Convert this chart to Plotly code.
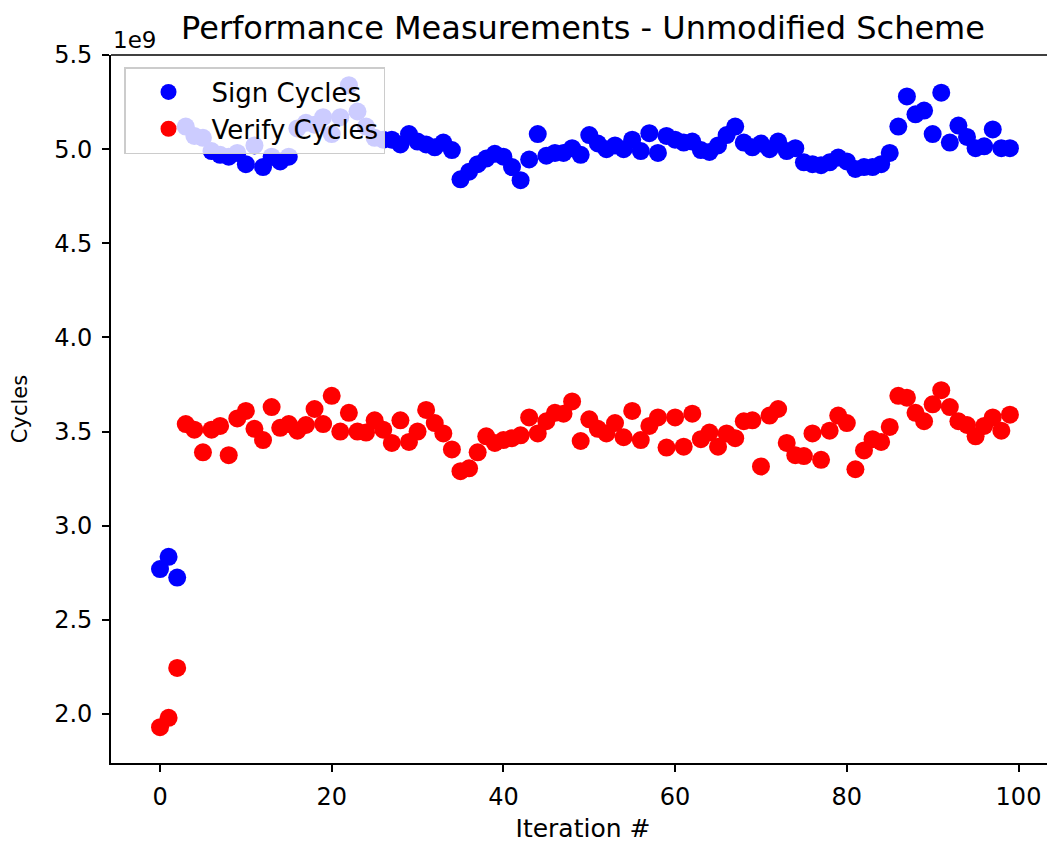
import plotly.graph_objects as go

iterations = list(range(100))

sign_cycles_e9 = [
    2.77, 2.835, 2.725, 5.12, 5.07, 5.06, 4.99, 4.97, 4.96, 4.98,
    4.92, 5.02, 4.905, 4.96, 4.935, 4.96, 5.11, 5.14, 5.13, 5.17,
    5.08, 5.17, 5.34, 5.20, 5.12, 5.06, 5.05, 5.05, 5.025, 5.08,
    5.04, 5.025, 5.01, 5.035, 4.995, 4.84, 4.88, 4.92, 4.95, 4.975,
    4.96, 4.905, 4.835, 4.945, 5.08, 4.965, 4.98, 4.98, 5.005, 4.97,
    5.075, 5.03, 5.00, 5.02, 5.00, 5.05, 4.99, 5.085, 4.98, 5.07,
    5.05, 5.035, 5.04, 4.995, 4.985, 5.02, 5.075, 5.12, 5.035, 5.01,
    5.03, 5.00, 5.04, 4.99, 5.005, 4.93, 4.92, 4.915, 4.93, 4.955,
    4.935, 4.895, 4.905, 4.905, 4.92, 4.98, 5.12, 5.28, 5.185, 5.205,
    5.08, 5.30, 5.035, 5.125, 5.065, 5.005, 5.015, 5.105, 5.005, 5.005,
]

verify_cycles_e9 = [
    1.93, 1.98, 2.245, 3.54, 3.51, 3.39, 3.51, 3.53, 3.375, 3.57,
    3.61, 3.515, 3.455, 3.63, 3.52, 3.54, 3.505, 3.535, 3.62, 3.54,
    3.69, 3.50, 3.60, 3.50, 3.495, 3.56, 3.51, 3.44, 3.56, 3.445,
    3.50, 3.615, 3.545, 3.49, 3.405, 3.29, 3.305, 3.39, 3.475, 3.44,
    3.455, 3.465, 3.48, 3.575, 3.49, 3.555, 3.60, 3.595, 3.66, 3.45,
    3.565, 3.515, 3.49, 3.545, 3.47, 3.61, 3.455, 3.53, 3.575, 3.415,
    3.575, 3.42, 3.595, 3.46, 3.495, 3.42, 3.49, 3.465, 3.555, 3.56,
    3.315, 3.585, 3.62, 3.44, 3.375, 3.37, 3.49, 3.35, 3.505, 3.585,
    3.545, 3.30, 3.40, 3.46, 3.445, 3.525, 3.69, 3.68, 3.60, 3.555,
    3.645, 3.72, 3.63, 3.555, 3.535, 3.475, 3.53, 3.575, 3.505, 3.59,
]

y_tick_vals_e9 = [2.0, 2.5, 3.0, 3.5, 4.0, 4.5, 5.0, 5.5]
y_tick_labels = ["2.0", "2.5", "3.0", "3.5", "4.0", "4.5", "5.0", "5.5"]
x_tick_vals = [0, 20, 40, 60, 80, 100]

SCALE = 1e9
sign = [v * SCALE for v in sign_cycles_e9]
verify = [v * SCALE for v in verify_cycles_e9]

FONT = "DejaVu Sans"
W, H = 1047, 838  # page body adds an 8px offset

fig = go.Figure()
fig.add_trace(go.Scatter(
    x=iterations, y=sign, mode="markers", name="Sign Cycles",
    legendgroup="a",
    marker=dict(color="#0000ff", size=18, line=dict(width=0)),
))
fig.add_trace(go.Scatter(
    x=iterations, y=verify, mode="markers", name="Verify Cycles",
    legendgroup="b",
    marker=dict(color="#ff0000", size=18, line=dict(width=0)),
))

fig.update_layout(
    width=W, height=H,
    margin=dict(l=103, r=0, t=47, b=83, autoexpand=False),
    paper_bgcolor="white", plot_bgcolor="white",
    font=dict(family=FONT, size=24, color="black"),
    title=dict(text="Performance Measurements - Unmodified Scheme",
               x=0.5, xref="paper", xanchor="center",
               y=1 - 20 / H, yanchor="middle",
               font=dict(size=32, family=FONT)),
    xaxis=dict(range=[-5.71, 104.25], tickvals=x_tick_vals,
               showgrid=False, zeroline=False, showline=True,
               linecolor="black", linewidth=1.6, ticks="outside",
               ticklen=7, tickwidth=1.6, tickcolor="black",
               tickfont=dict(size=24), ticklabelstandoff=4,
               automargin=False,
               title=dict(text="Iteration #", font=dict(size=25), standoff=10)),
    yaxis=dict(range=[1.740 * SCALE, 5.5 * SCALE],
               tickvals=[v * SCALE for v in y_tick_vals_e9],
               ticktext=y_tick_labels,
               showgrid=False, zeroline=False, showline=True,
               linecolor="black", linewidth=1.6, ticks="outside",
               ticklen=7, tickwidth=1.6, tickcolor="black",
               tickfont=dict(size=24), ticklabelstandoff=5,
               automargin=False,
               title=dict(text="Cycles", font=dict(size=21), standoff=21)),
    legend=dict(x=0.0138, y=0.983, xanchor="left", yanchor="top",
                bgcolor="rgba(255,255,255,0.8)", bordercolor="#cccccc",
                borderwidth=1.5, font=dict(size=26),
                traceorder="grouped", tracegroupgap=0,
                itemwidth=76),
    showlegend=True,
)

fig.add_shape(type="line", xref="paper", yref="paper",
              x0=0, x1=1, y0=1, y1=1,
              line=dict(color="black", width=1.6))

fig.add_annotation(text="1e9", xref="paper", yref="paper",
                   x=0.0, y=1.0, xanchor="left", yanchor="bottom",
                   yshift=0, showarrow=False, font=dict(size=23, family=FONT))

fig.write_html("out.html", config={"displayModeBar": False})
